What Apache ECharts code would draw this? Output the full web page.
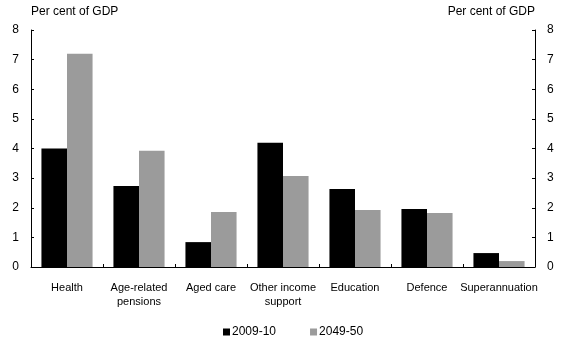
<!DOCTYPE html>
<html><head><meta charset="utf-8">
<script src="https://cdn.jsdelivr.net/npm/echarts@6/dist/echarts.min.js"></script>
<style>html,body{margin:0;padding:0;background:#fff}#c{width:563px;height:345px}</style>
</head><body><div id="c"></div>
<script>
const categories = ['Health', 'Age-related\npensions', 'Aged care', 'Other income\nsupport', 'Education', 'Defence', 'Superannuation'];
const s2009 = [4.0, 2.73, 0.84, 4.19, 2.63, 1.96, 0.47];
const s2049 = [7.2, 3.92, 1.86, 3.07, 1.92, 1.82, 0.2];
const yTicks = [0, 1, 2, 3, 4, 5, 6, 7, 8];
const axisTitle = 'Per cent of GDP';

const font = 'Liberation Sans, Arial, sans-serif';
const chart = echarts.init(document.getElementById('c'));
const yCommon = {
  type: 'value', min: yTicks[0], max: yTicks[yTicks.length - 1], interval: 1,
  splitLine: { show: false },
  axisLine: { show: true, lineStyle: { color: '#000', width: 1 } },
  axisTick: { show: true, inside: true, length: 3, lineStyle: { color: '#000' } },
  axisLabel: { color: '#000', fontFamily: font, fontSize: 12, margin: 12 },
  name: axisTitle, nameLocation: 'end', nameGap: 12,
  nameTextStyle: { color: '#000', fontFamily: font, fontSize: 12 }
};
chart.setOption({
  animation: false,
  grid: { left: 31, right: 28, top: 30, bottom: 78 },
  legend: {
    bottom: 2, left: 218, itemWidth: 7, itemHeight: 7, itemGap: 34,
    icon: 'rect',
    textStyle: { fontFamily: font, fontSize: 12, color: '#000', padding: [0, 0, 0, -3] },
    data: ['2009-10', '2049-50']
  },
  xAxis: {
    type: 'category', data: categories,
    axisLine: { lineStyle: { color: '#000' } },
    axisTick: { show: true, inside: true, length: 3, lineStyle: { color: '#000' } },
    axisLabel: { color: '#000', fontFamily: font, fontSize: 11, margin: 14, interval: 0, lineHeight: 14 }
  },
  yAxis: [
    Object.assign({}, yCommon, { position: 'left', nameTextStyle: Object.assign({}, yCommon.nameTextStyle, { align: 'left' }) }),
    Object.assign({}, yCommon, { position: 'right', nameTextStyle: Object.assign({}, yCommon.nameTextStyle, { align: 'right' }) })
  ],
  series: [
    { name: '2009-10', type: 'bar', data: s2009, itemStyle: { color: '#000' }, barGap: '0%', barCategoryGap: '29%' },
    { name: '2049-50', type: 'bar', data: s2049, itemStyle: { color: '#9b9b9b' }, barGap: '0%', barCategoryGap: '29%' }
  ]
});
</script></body></html>
